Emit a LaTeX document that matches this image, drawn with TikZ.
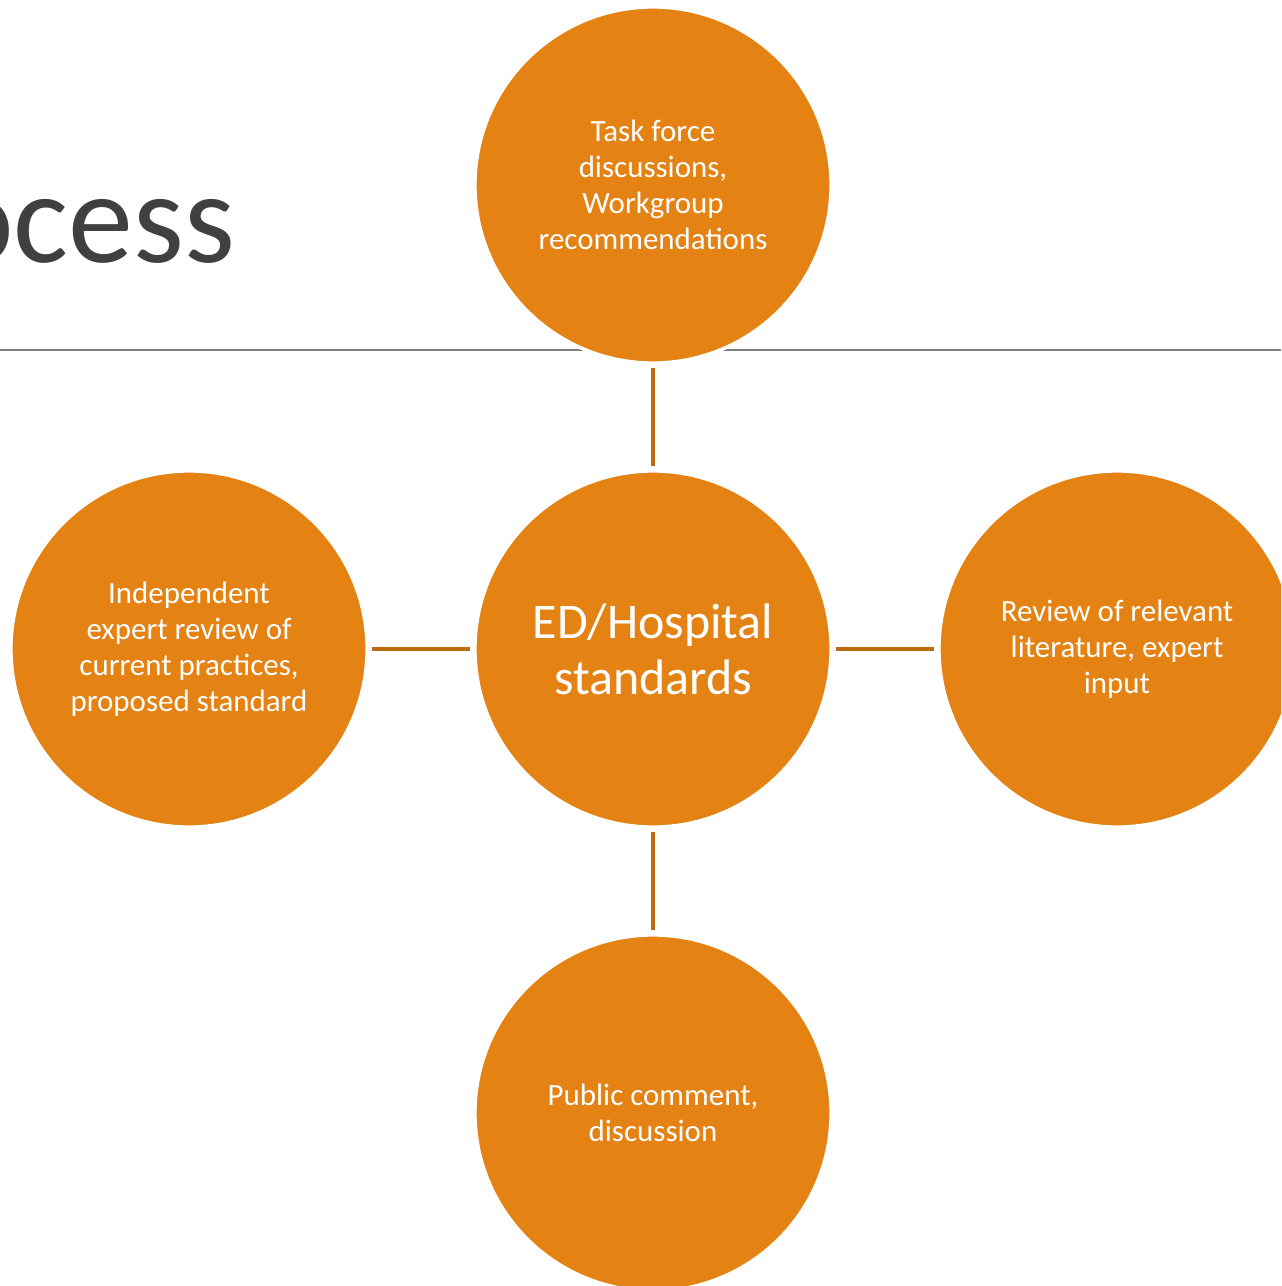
\documentclass[tikz,border=0pt]{standalone}
\usepackage{fontspec}
\setmainfont{Carlito}
\usepackage{tikz}

\definecolor{stdorange}{HTML}{E48313}
\definecolor{stdlink}{HTML}{BE6A10}
\definecolor{rulegray}{HTML}{7F7F7F}
\definecolor{titlegray}{HTML}{404040}

\begin{document}
\begin{tikzpicture}[x=0.01cm, y=-0.01cm,
		topic/.style={circle, draw=white, line width=1pt, fill=stdorange, minimum size=3.56cm,
			text=white, align=center, font=\fontsize{8.8}{10.2}\selectfont},
		link/.style={stdlink, line width=1.15pt, shorten <=1pt, shorten >=1pt}]
			\clip (0,0) rectangle (1281,1286);

			% Heading and rule
			\node[anchor=base east, text=titlegray, font=\fontsize{37}{40}\selectfont, inner sep=0pt] (title) at (236,263) {Process};
			\draw[rulegray, line width=0.6pt] (0,350) -- (1281,350);

			% Nodes
			\node[topic, font=\fontsize{14.2}{15.9}\selectfont] (ed) at (653,649) {ED/Hospital\\standards};
			\node[topic] (task) at (653,185) {Task force\\discussions,\\Workgroup\\recommendations};
			\node[topic] (lit) at (1117,649) {Review of relevant\\literature, expert\\input};
			\node[topic] (pub) at (653,1113) {Public comment,\\discussion};
			\node[topic] (indep) at (189,649) {Independent\\expert review of\\current practices,\\proposed standard};

			% Links
			\draw[link] (task) -- (ed);
			\draw[link] (ed) -- (lit);
			\draw[link] (ed) -- (pub);
			\draw[link] (indep) -- (ed);
		\end{tikzpicture}
\end{document}
